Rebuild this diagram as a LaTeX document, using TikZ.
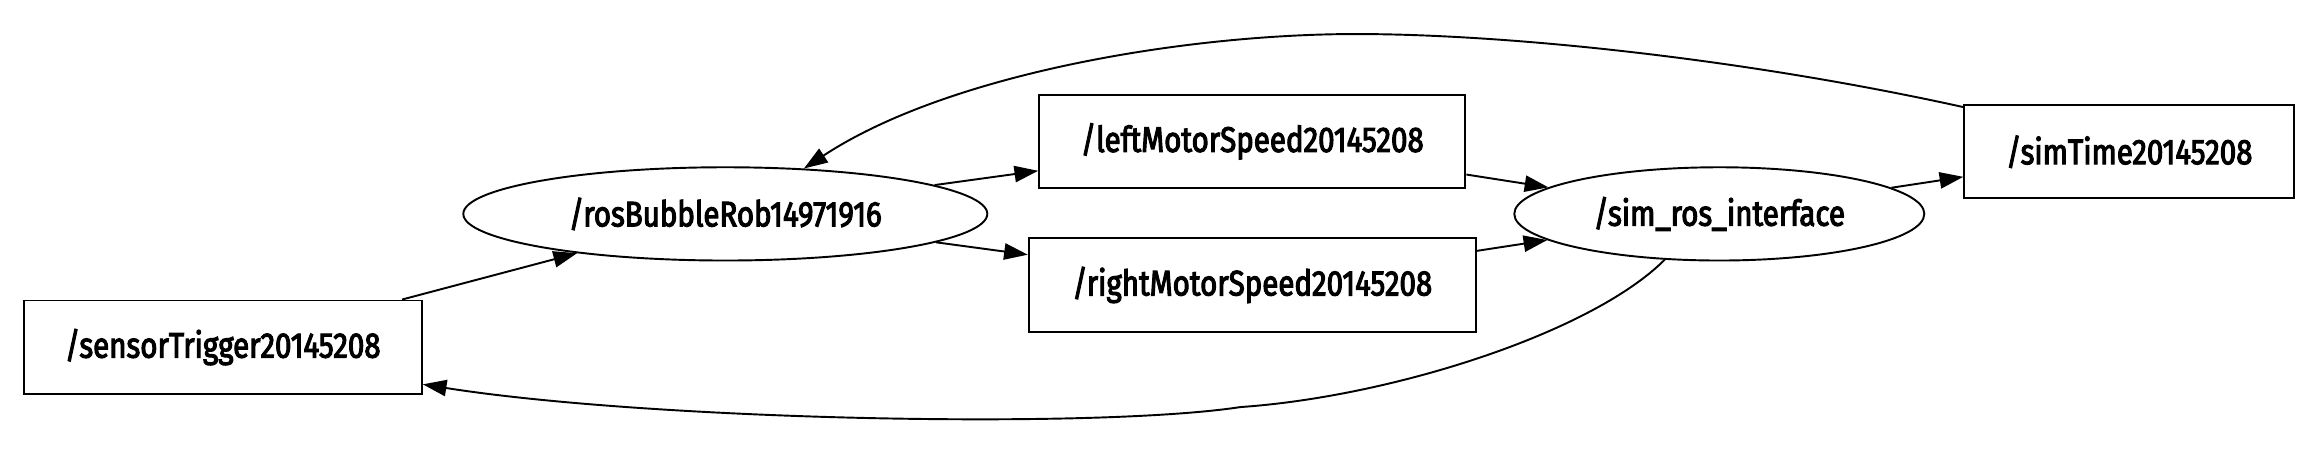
\documentclass[tikz,border=0pt]{standalone}
\usepackage{fontspec}
\setmainfont{Fira Sans}[FakeStretch=0.83,FakeBold=3]
\usetikzlibrary{arrows.meta,shapes.geometric}

\begin{document}
\begin{tikzpicture}[x=1pt,y=-1pt,>={Triangle[length=16pt,width=11pt]},line width=1.3pt,
  topic/.style={draw,rectangle,minimum height=63pt,inner sep=0pt,font=\fontsize{24}{28}\selectfont},
  rosnode/.style={draw,ellipse,minimum height=63pt,inner sep=0pt,font=\fontsize{24}{28}\selectfont}]
\useasboundingbox (0,0) rectangle (1568,304);
\node[topic,minimum width=269pt] (sensor) at (150.5,234.5) {/sensorTrigger20145208};
\node[rosnode,minimum width=354pt] (rosbob) at (490,144.5) {/rosBubbleRob14971916};
\node[topic,minimum width=288pt] (left) at (846,95.5) {/leftMotorSpeed20145208};
\node[topic,minimum width=302pt] (right) at (846,192.5) {/rightMotorSpeed20145208};
\node[rosnode,minimum width=277pt] (simros) at (1161.5,144.5) {/sim\_ros\_interface};
\node[topic,minimum width=223pt] (simtime) at (1438.5,102.5) {/simTime20145208};

\draw[->] (sensor) -- (rosbob);
\draw[->] (rosbob) -- (left);
\draw[->] (rosbob) -- (right);
\draw[->] (left) -- (simros);
\draw[->] (right) -- (simros);
\draw[->] (simros) -- (simtime);
\draw[->] ([yshift=-2pt]simtime.north west) .. controls (1180,40) and (1020,23) .. (916,23)
  .. controls (800,23) and (640,50) .. (rosbob.30);
\draw[->] (simros.220) .. controls (1075,225) and (940,268) .. (838,275)
  .. controls (740,290) and (440,284) .. ([yshift=7pt]sensor.south east);
\end{tikzpicture}
\end{document}
